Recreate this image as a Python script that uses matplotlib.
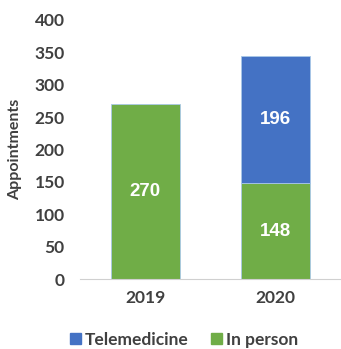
import matplotlib
matplotlib.use("Agg")
import matplotlib.pyplot as plt
from matplotlib.patches import Patch

years = ["2019", "2020"]
in_person = [270, 148]
telemedicine = [0, 196]
series_names = ["Telemedicine", "In person"]

blue = "#4472C4"
green = "#70AD47"
grey = "#404040"

plt.rcParams['font.family'] = ['Lato', 'DejaVu Sans']

fig = plt.figure(figsize=(3.41, 3.49), dpi=100)
ax = fig.add_axes([80/341, 1 - 279/349, 1 - 80/341, (279 - 20)/349])

x = list(range(len(years)))
ax.bar(x, in_person, width=0.53, color=green, edgecolor="#a9c8e8", linewidth=0.6)
# only draw telemedicine where there is any
tx = [i for i in x if telemedicine[i] > 0]
ax.bar(tx, [telemedicine[i] for i in tx], width=0.53,
       bottom=[in_person[i] for i in tx], color=blue,
       edgecolor="#a9c8e8", linewidth=0.6)

# data labels
for i in x:
    ax.text(i, in_person[i] / 2, str(in_person[i]), ha="center", va="center",
            color="white", fontsize=13.5, fontweight="bold", family="Liberation Sans")
    if telemedicine[i] > 0:
        ax.text(i, in_person[i] + telemedicine[i] / 2, str(telemedicine[i]),
                ha="center", va="center", color="white", fontsize=13.5,
                fontweight="bold", family="Liberation Sans")

ax.set_xlim(-0.5, 1.5)
ax.set_ylim(0, 400)
ax.set_yticks(range(0, 401, 50))
ax.set_xticks(x)
ax.set_xticklabels(years)

for s in ["top", "right", "left"]:
    ax.spines[s].set_visible(False)
ax.spines["bottom"].set_color("#d0d0d0")
ax.tick_params(axis="both", length=0, colors=grey, labelsize=12.5)
ax.tick_params(axis="y", pad=11)
ax.tick_params(axis="x", pad=8)
for lab in ax.get_xticklabels() + ax.get_yticklabels():
    lab.set_fontweight("bold")

ax.set_ylabel("Appointments", fontsize=11.5, fontweight="bold", color=grey, labelpad=9)

handles = [Patch(color=blue), Patch(color=green)]
fig.legend(handles, series_names, loc="center", bbox_to_anchor=(0.54, 1 - 340/349),
           ncol=2, frameon=False, handlelength=0.6, handleheight=0.6,
           handletextpad=0.25, columnspacing=1.3,
           prop={"weight": "bold", "size": 12.5})
for t in fig.legends[0].get_texts():
    t.set_color(grey)

fig.savefig("out.png", dpi=100)
